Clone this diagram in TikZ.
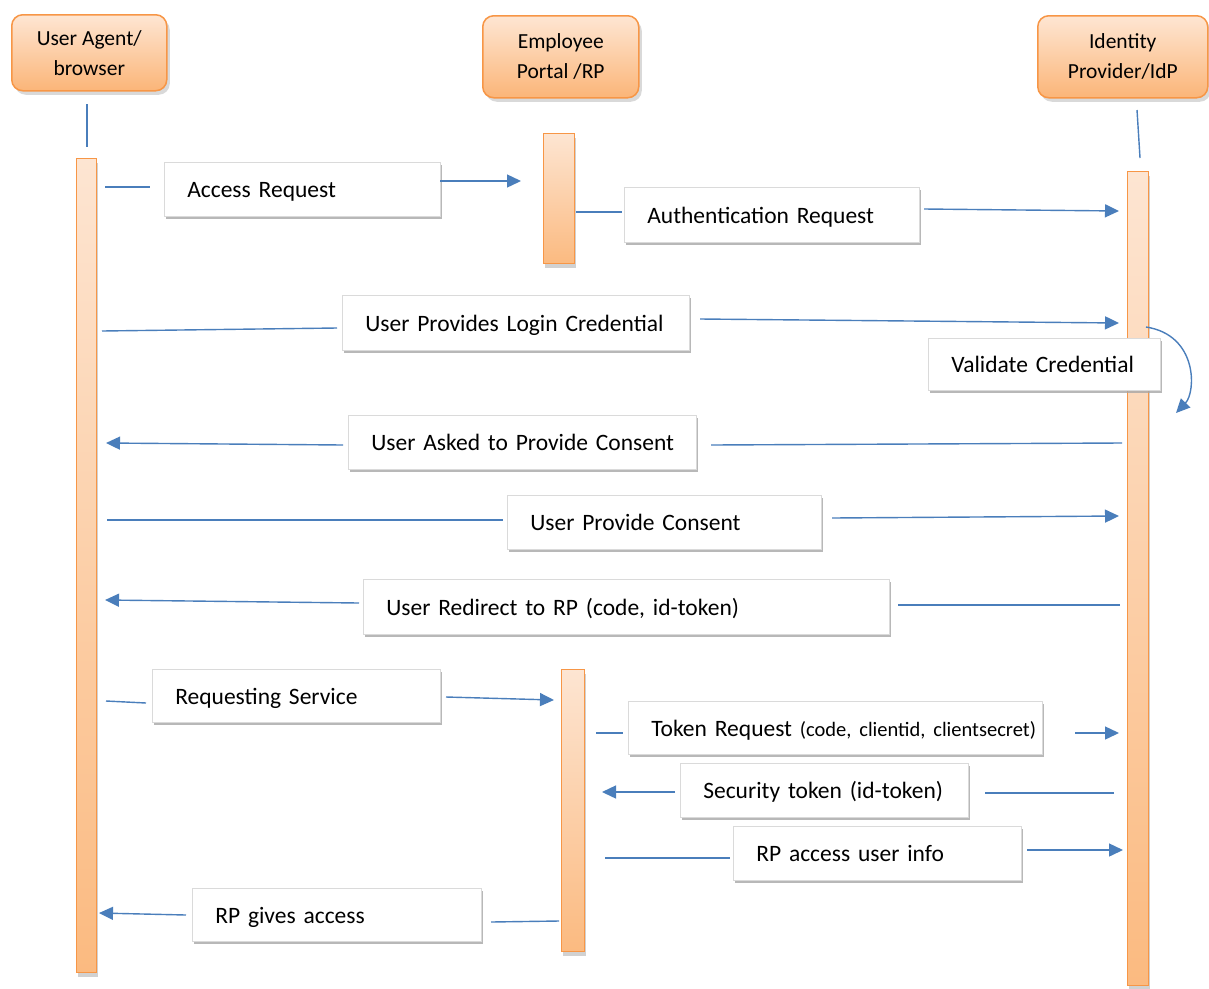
\documentclass[tikz,border=0pt]{standalone}
\usepackage{fontspec}
\setmainfont{Carlito}
\usetikzlibrary{shadows,arrows.meta}
\definecolor{edge}{HTML}{F79646}
\definecolor{peachtop}{HTML}{FEE6D3}
\definecolor{peachbot}{HTML}{FBB578}
\definecolor{bartop}{HTML}{FDE5D2}
\definecolor{barbot}{HTML}{FBBA80}
\definecolor{msg}{HTML}{4A7EBB}
\definecolor{boxline}{HTML}{DADADA}
\tikzset{
  header/.style={draw=edge, line width=1.5pt, rounded corners=11pt,
    top color=peachtop, bottom color=peachbot, anchor=north west,
    align=center, font=\fontsize{21.5}{30}\selectfont,
    drop shadow={shadow xshift=3pt, shadow yshift=-4pt, fill=black!25, opacity=0.6}},
  actbar/.style={draw=edge, line width=1.3pt, top color=bartop, bottom color=barbot,
    anchor=north west, inner sep=0pt,
    drop shadow={shadow xshift=1pt, shadow yshift=-4pt, fill=black!30, opacity=0.6}},
  lbl/.style={draw=boxline, line width=0.6pt, fill=white, anchor=north west,
    inner xsep=23pt, inner ysep=0pt, align=left,
    font=\fontsize{23.5}{26}\selectfont, text height=19pt, text depth=2pt,
    drop shadow={shadow xshift=2pt, shadow yshift=-3pt, fill=black!35, opacity=0.8}},
  wire/.style={draw=msg, line width=1.4pt},
  msgarrow/.style={wire, -{Triangle[length=14pt,width=13pt]}},
}
\newcommand{\lbox}[6]{% name, x, y, width, height, text
  \node[lbl, minimum width=#4pt, minimum height=#5pt, text width=#4pt-46pt] (#1) at (#2,#3) {\mbox{#6}};}
\begin{document}
\begin{tikzpicture}[x=1pt,y=-1pt]
\useasboundingbox (0,0) rectangle (1209,988);

% participants
\node[header, minimum width=155pt, minimum height=76pt] (ua) at (11,14) {User Agent/\\browser};
\node[header, minimum width=156pt, minimum height=82pt] (rp) at (482,15) {Employee\\Portal /RP};
\node[header, minimum width=170pt, minimum height=82pt] (idp) at (1037,15) {Identity\\Provider/IdP};

% activation bars
\node[actbar, minimum width=20pt, minimum height=814pt] (barua) at (76,158) {};
\node[actbar, minimum width=31pt, minimum height=130pt] (barrp1) at (543,133) {};
\node[actbar, minimum width=21pt, minimum height=814pt] (baridp) at (1127,171) {};
\node[actbar, minimum width=23pt, minimum height=282pt] (barrp2) at (561,669) {};

% lifeline stubs
\coordinate (ua1) at (87,104); \coordinate (ua2) at (87,147);
\coordinate (idp1) at (1137,110); \coordinate (idp2) at (1140,158);
\draw[wire] (ua1) -- (ua2);
\draw[wire] (idp1) -- (idp2);

% message labels
\lbox{m1}{164}{162}{276}{54}{Access Request}
\lbox{m2}{624}{187}{295}{55}{Authentication Request}
\lbox{m3}{342}{295}{347}{55}{User Provides Login Credential}
\lbox{m4}{928}{338}{232}{52}{Validate Credential}
\lbox{m5}{348}{415}{348}{54}{User Asked to Provide Consent}
\lbox{m6}{507}{495}{314}{54}{User Provide Consent}
\lbox{m7}{363}{579}{526}{55}{User Redirect to RP (code, id-token)}
\lbox{m8}{152}{669}{288}{53}{Requesting Service}
\lbox{m9}{628}{701}{414}{53}{Token Request {\fontsize{20.5}{24}\selectfont(code, clientid, clientsecret)}}
\lbox{m10}{680}{763}{288}{54}{Security token (id-token)}
\lbox{m11}{733}{826}{288}{54}{RP access user info}
\lbox{m12}{192}{888}{289}{53}{RP gives access}

% message wire end points
\coordinate (a1s) at (105,187); \coordinate (a1e) at (150,187);
\coordinate (a1f) at (440,181); \coordinate (a1t) at (521,181);
\coordinate (a2s) at (576,212); \coordinate (a2e) at (622,212);
\coordinate (a2f) at (924,209); \coordinate (a2t) at (1119,211);
\coordinate (a3s) at (102,331); \coordinate (a3e) at (337,328);
\coordinate (a3f) at (700,319); \coordinate (a3t) at (1119,323);
\coordinate (a4s) at (1146,327); \coordinate (a4t) at (1176,413);
\coordinate (a5s) at (1122,443); \coordinate (a5e) at (711,445);
\coordinate (a5f) at (343,445); \coordinate (a5t) at (106,443);
\coordinate (a6s) at (107,520); \coordinate (a6e) at (503,520);
\coordinate (a6f) at (832,518); \coordinate (a6t) at (1119,516);
\coordinate (a7s) at (1120,605); \coordinate (a7e) at (898,605);
\coordinate (a7f) at (359,603); \coordinate (a7t) at (105,600);
\coordinate (a8s) at (106,701); \coordinate (a8e) at (146,703);
\coordinate (a8f) at (446,697); \coordinate (a8t) at (554,700);
\coordinate (a9s) at (596,733); \coordinate (a9e) at (623,733);
\coordinate (a9f) at (1075,733); \coordinate (a9t) at (1119,733);
\coordinate (a10s) at (1114,793); \coordinate (a10e) at (985,793);
\coordinate (a10f) at (675,792); \coordinate (a10t) at (602,792);
\coordinate (a11s) at (605,858); \coordinate (a11e) at (730,858);
\coordinate (a11f) at (1027,850); \coordinate (a11t) at (1123,850);
\coordinate (a12s) at (559,921); \coordinate (a12e) at (491,922);
\coordinate (a12f) at (186,915); \coordinate (a12t) at (99,913);

% messages
\draw[wire] (a1s) -- (a1e);   \draw[msgarrow] (a1f) -- (a1t);
\draw[wire] (a2s) -- (a2e);   \draw[msgarrow] (a2f) -- (a2t);
\draw[wire] (a3s) -- (a3e);   \draw[msgarrow] (a3f) -- (a3t);
\draw[msgarrow] (a4s) .. controls (1198,335) and (1196,392) .. (a4t);
\draw[wire] (a5s) -- (a5e);   \draw[msgarrow] (a5f) -- (a5t);
\draw[wire] (a6s) -- (a6e);   \draw[msgarrow] (a6f) -- (a6t);
\draw[wire] (a7s) -- (a7e);   \draw[msgarrow] (a7f) -- (a7t);
\draw[wire] (a8s) -- (a8e);   \draw[msgarrow] (a8f) -- (a8t);
\draw[wire] (a9s) -- (a9e);   \draw[msgarrow] (a9f) -- (a9t);
\draw[wire] (a10s) -- (a10e); \draw[msgarrow] (a10f) -- (a10t);
\draw[wire] (a11s) -- (a11e); \draw[msgarrow] (a11f) -- (a11t);
\draw[wire] (a12s) -- (a12e); \draw[msgarrow] (a12f) -- (a12t);
\end{tikzpicture}
\end{document}
